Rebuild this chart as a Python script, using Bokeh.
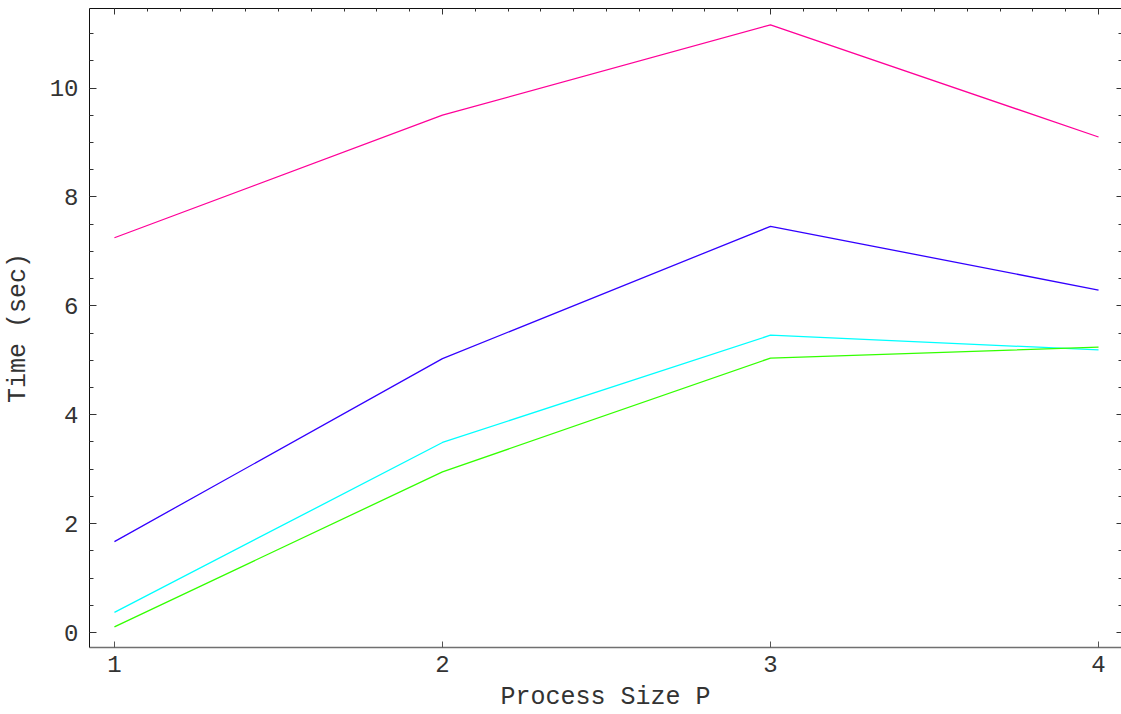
from bokeh.plotting import figure
from bokeh.models import LinearAxis, SingleIntervalTicker, FixedTicker, Range1d, CustomJSTickFormatter
from bokeh.embed import file_html
from bokeh.resources import INLINE

# Data
process_size = [1, 2, 3, 4]
series_a = [7.25, 9.50, 11.16, 9.10]   # magenta
series_b = [1.67, 5.03, 7.46, 6.29]    # blue
series_c = [0.37, 3.49, 5.46, 5.19]    # cyan
series_d = [0.105, 2.95, 5.04, 5.24]   # green
colors = ["#ff0099", "#3300ff", "#00ffff", "#33ff00"]
x_label = "Process Size P"
y_label = "Time (sec)"

FONT = "Liberation Mono"

p = figure(width=1121, height=714, output_backend="svg", toolbar_location=None,
           x_range=Range1d(0.924, 4.07), y_range=Range1d(-0.275, 11.46),
           x_axis_type=None, y_axis_type=None)
p.min_border_left = 89
p.min_border_right = 0
p.min_border_top = 8
p.min_border_bottom = 67
p.outline_line_color = None
p.background_fill_color = "white"
p.border_fill_color = "white"
p.xgrid.visible = False
p.ygrid.visible = False

for ys, c in zip([series_a, series_b, series_c, series_d], colors):
    p.line(process_size, ys, line_color=c, line_width=1.3)

blank = CustomJSTickFormatter(code="return ''")

# bottom axis
xb = LinearAxis(ticker=FixedTicker(ticks=process_size, minor_ticks=[]), axis_label=x_label)
xb.axis_line_color = "#707070"
xb.axis_line_width = 1.3
xb.major_tick_in = 6
xb.major_tick_out = 0
xb.major_tick_line_color = "#555555"
xb.minor_tick_line_color = None
xb.major_label_text_font = FONT
xb.major_label_text_font_size = "24px"
xb.major_label_text_color = "#333333"
xb.major_label_standoff = 8
xb.axis_label_text_font = FONT
xb.axis_label_text_font_size = "25px"
xb.axis_label_text_font_style = "normal"
xb.axis_label_text_color = "#333333"
xb.axis_label_standoff = 8
p.add_layout(xb, "below")

# top axis (ticks only)
xt = LinearAxis(ticker=SingleIntervalTicker(interval=1, num_minor_ticks=10), formatter=blank)
xt.axis_line_color = "#111111"
xt.major_tick_in = 6
xt.major_tick_out = 0
xt.minor_tick_in = 3
xt.minor_tick_out = 0
xt.major_tick_line_color = "#333333"
xt.minor_tick_line_color = "#333333"
xt.major_label_text_font_size = "1px"
xt.major_label_standoff = 0
p.add_layout(xt, "above")

# left axis
yl = LinearAxis(ticker=SingleIntervalTicker(interval=2, num_minor_ticks=4), axis_label=y_label)
yl.axis_line_color = "#111111"
yl.major_tick_in = 7
yl.major_tick_out = 0
yl.minor_tick_in = 4
yl.minor_tick_out = 0
yl.major_tick_line_color = "#333333"
yl.minor_tick_line_color = "#333333"
yl.major_label_text_font = FONT
yl.major_label_text_font_size = "24px"
yl.major_label_text_color = "#333333"
yl.major_label_standoff = 11
yl.axis_label_text_font = FONT
yl.axis_label_text_font_size = "25px"
yl.axis_label_text_font_style = "normal"
yl.axis_label_text_color = "#333333"
yl.axis_label_standoff = 14
p.add_layout(yl, "left")

# right axis (ticks only)
yr = LinearAxis(ticker=SingleIntervalTicker(interval=2, num_minor_ticks=4), formatter=blank)
yr.axis_line_color = None
yr.major_tick_in = 5
yr.major_tick_out = 0
yr.minor_tick_in = 3
yr.minor_tick_out = 0
yr.major_tick_line_color = "#333333"
yr.minor_tick_line_color = "#333333"
yr.major_label_text_font_size = "1px"
yr.major_label_standoff = 0
p.add_layout(yr, "right")

open("out.html", "w").write(file_html(p, INLINE))
